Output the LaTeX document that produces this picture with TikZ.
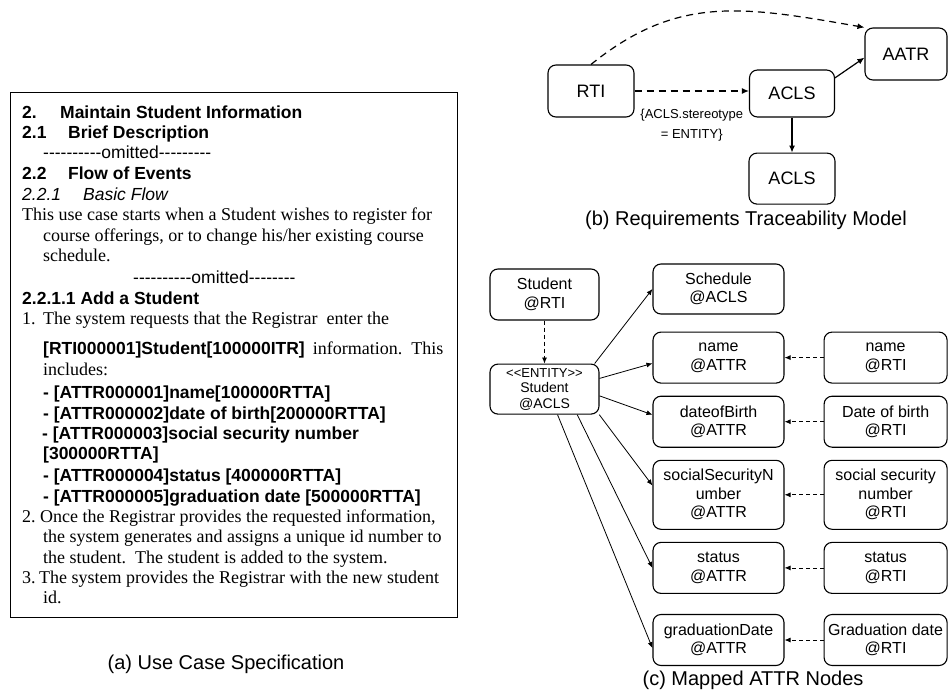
\documentclass[tikz,border=0pt]{standalone}
\usepackage{fontspec}
\setmainfont{Liberation Serif}
\setsansfont{Liberation Sans}
\usetikzlibrary{positioning, arrows.meta}

\newcommand{\dashrun}[1]{\foreach \k in {1,...,#1}{-}}

\begin{document}
\begin{tikzpicture}[x=1pt, y=-1pt,
        nbox/.style={draw, rounded corners=8pt, line width=1.1pt, align=center, inner sep=0pt, font=\sffamily\fontsize{16}{18.5}\selectfont},
        tbox/.style={nbox, font=\sffamily\fontsize{18}{20}\selectfont},
        attrbox/.style={nbox, minimum width=131pt, minimum height=51pt},
        rtibox/.style={nbox, minimum width=123pt, minimum height=51pt},
        txt/.style={anchor=base west, inner sep=0pt},
        head/.style={txt, font=\sffamily\bfseries\fontsize{17.5}{20}\selectfont},
        body/.style={txt, font=\rmfamily\fontsize{18}{20.7}\selectfont},
        caption/.style={font=\sffamily\fontsize{20}{24}\selectfont},
        trace/.style={->, line width=1.2pt, dash pattern=on 7pt off 5pt},
        link/.style={-{Latex[length=6pt,width=5pt]}, line width=0.8pt},
        mapped/.style={link, dash pattern=on 4pt off 3pt},
        >={Latex[length=7pt,width=6pt]}]

        \useasboundingbox (0,0) rectangle (948,693);

        % (a) use case text
        \draw[line width=1pt] (10,92) rectangle (457,617);
        \node (h2) [head] at (22,118) {\makebox[38pt][l]{2.}Maintain Student Information};
        \node (h21) [head] at (22,138) {\makebox[46pt][l]{2.1}Brief Description};
        \node (om1) [txt, font=\sffamily\fontsize{17.5}{20}\selectfont] at (43,158) {\dashrun{10}omitted\dashrun{9}};
        \node (h22) [head] at (22,179) {\makebox[46pt][l]{2.2}Flow of Events};
        \node (h221) [txt, font=\sffamily\itshape\fontsize{17.5}{20}\selectfont] at (22,200) {\makebox[61pt][l]{2.2.1}Basic Flow};
        \node (p1) [body] at (22,220) {This use case starts when a Student wishes to register for};
        \node (p2) [body] at (43,241) {course offerings, or to change his/her existing course};
        \node (p3) [body] at (43,261) {schedule.};
        \node (om2) [txt, font=\sffamily\fontsize{17.5}{20}\selectfont] at (133,283) {\dashrun{10}omitted\dashrun{8}};
        \node (h2211) [head] at (22,304) {2.2.1.1 Add a Student};
        \node (s1) [body] at (22,324) {\makebox[21pt][l]{1.}The system requests that the Registrar\ \ enter the};
        \node (s1b) [body] at (43,354) {{\sffamily\bfseries\fontsize{17.5}{20}\selectfont [RTI000001]Student[100000ITR]}\hspace{8pt}information.\ \ This};
        \node (s1c) [body] at (43,375) {includes:};
        \node (at1) [head] at (43,398) {- [ATTR000001]name[100000RTTA]};
        \node (at2) [head] at (43,419) {- [ATTR000002]date of birth[200000RTTA]};
        \node (at3) [head] at (42,439) {- [ATTR000003]social security number};
        \node (at3b) [head] at (43,459) {[300000RTTA]};
        \node (at4) [head] at (43,481) {- [ATTR000004]status [400000RTTA]};
        \node (at5) [head] at (43,502) {- [ATTR000005]graduation date [500000RTTA]};
        \node (s2) [body] at (22,522) {\makebox[18pt][l]{2.}Once the Registrar provides the requested information,};
        \node (s2b) [body] at (43,542) {the system generates and assigns a unique id number to};
        \node (s2c) [body] at (43,563) {the student.\ \ The student is added to the system.};
        \node (s3) [body] at (22,583) {\makebox[17pt][l]{3.}The system provides the Registrar with the new student};
        \node (s3b) [body] at (43,603) {id.};
        \node (capA) [caption] at (226,664) {(a) Use Case Specification};

        % (b) traceability model
        \node (rti) [tbox, minimum width=86pt, minimum height=52pt] at (591,91) {RTI};
        \node (aclsTop) [tbox, minimum width=85pt, minimum height=47pt] at (792,93.5) {ACLS};
        \node (aatr) [tbox, minimum width=82pt, minimum height=52pt] at (906,54) {AATR};
        \node (aclsLow) [tbox, minimum width=86pt, minimum height=51pt, below=35pt of aclsTop] {ACLS};
        \node (capB) [caption] at (746,220) {(b) Requirements Traceability Model};

        \draw[trace] (rti.east) -- (rti.east -| aclsTop.west)
            node[midway, anchor=north, inner sep=0pt, yshift=-17pt, align=center, font=\sffamily\fontsize{13}{20}\selectfont] {\{ACLS.stereotype\\= ENTITY\}};
        \draw[trace] (rti.north) .. controls (677,-5) and (742,6) .. (aatr.north west);
        \draw[->, line width=1.2pt] (aclsTop.20) -- (aatr.185);
        \draw[->, line width=1.2pt] (aclsTop) -- (aclsLow);

        % (c) mapped ATTR nodes
        \node (stuRti) [nbox, minimum width=109pt, minimum height=51pt] at (544.5,294.5) {Student\\@RTI};
        \node (stuAcls) [nbox, minimum width=109pt, minimum height=50pt, below=43pt of stuRti, font=\sffamily\fontsize{14}{15.5}\selectfont] {{\fontsize{13}{15.5}\selectfont {<}{<}ENTITY{>}{>}}\\Student\\@ACLS};
        \node (schedule) [attrbox, minimum height=50pt] at (718.5,289) {Schedule\\@ACLS};
        \node (nameAttr) [attrbox, below=17pt of schedule] {name\\@ATTR};
        \node (dobAttr) [attrbox, below=12pt of nameAttr] {dateofBirth\\@ATTR};
        \node (ssnAttr) [attrbox, minimum height=69pt, below=12pt of dobAttr] {socialSecurityN\\umber\\@ATTR};
        \node (statusAttr) [attrbox, below=12pt of ssnAttr] {status\\@ATTR};
        \node (gradAttr) [attrbox, below=20pt of statusAttr] {graduationDate\\@ATTR};

        \node (nameRti) [rtibox, right=39pt of nameAttr] {name\\@RTI};
        \node (dobRti) [rtibox, right=39pt of dobAttr] {Date of birth\\@RTI};
        \node (ssnRti) [rtibox, minimum height=69pt, right=39pt of ssnAttr] {social security\\number\\@RTI};
        \node (statusRti) [rtibox, right=39pt of statusAttr] {status\\@RTI};
        \node (gradRti) [rtibox, right=39pt of gradAttr] {Graduation date\\@RTI};
        \node (capC) [caption] at (753,680) {(c) Mapped ATTR Nodes};

        \draw[mapped] (stuRti) -- (stuAcls);
        \draw[link] (stuAcls.27) -- (schedule.west);
        \draw[link] (stuAcls.11) -- (nameAttr.185);
        \draw[link] (stuAcls.353) -- (dobAttr.174);
        \draw[link] (stuAcls.335) -- (ssnAttr.172);
        \draw[link] (stuAcls.322) -- (statusAttr.west);
        \draw[link] (stuAcls.297) -- (gradAttr.187);

        \draw[mapped] (nameRti) -- (nameAttr);
        \draw[mapped] (dobRti) -- (dobAttr);
        \draw[mapped] (ssnRti) -- (ssnAttr);
        \draw[mapped] (statusRti) -- (statusAttr);
        \draw[mapped] (gradRti) -- (gradAttr);
\end{tikzpicture}
\end{document}
